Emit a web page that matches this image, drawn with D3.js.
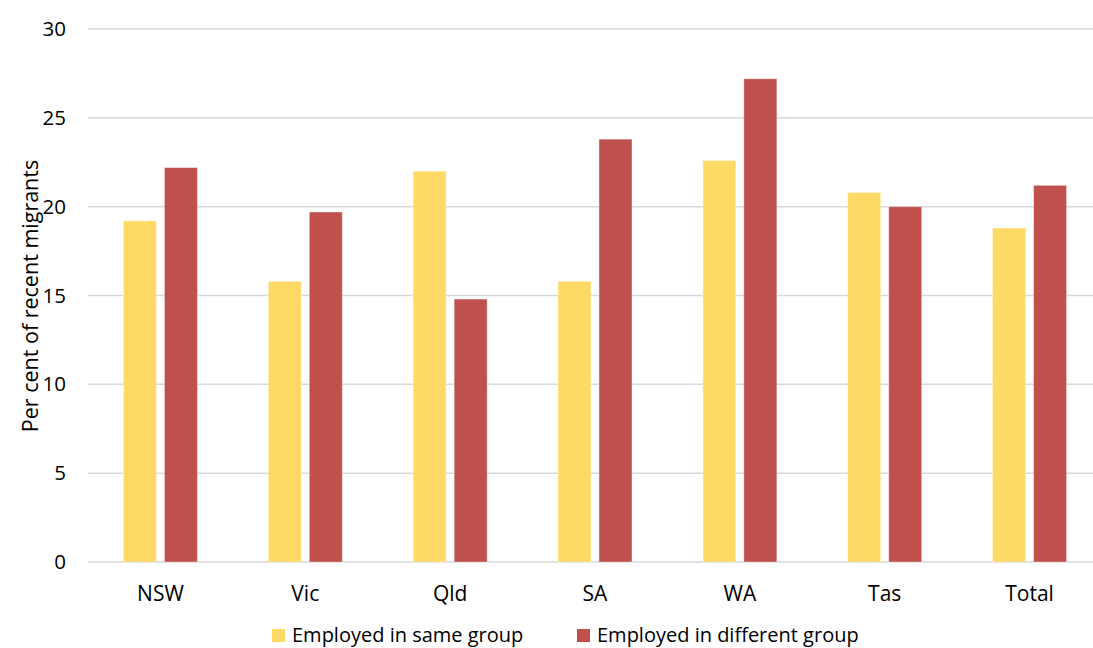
<!DOCTYPE html>
<html>
<head>
<meta charset="utf-8">
<script src="https://cdn.jsdelivr.net/npm/d3@7"></script>
<style>
  body { margin: 0; background: #fff; }
  svg text { font-family: "Open Sans", Lato, sans-serif; fill: #000; }
</style>
</head>
<body>
<div id="chart"></div>
<script>
// chart data
const categories = ["NSW", "Vic", "Qld", "SA", "WA", "Tas", "Total"];
const seriesNames = ["Employed in same group", "Employed in different group"];
const sameGroup = [19.2, 15.8, 22.0, 15.8, 22.6, 20.8, 18.8];
const differentGroup = [22.2, 19.7, 14.8, 23.8, 27.2, 20.0, 21.2];
const yTicks = [0, 5, 10, 15, 20, 25, 30];
const colours = ["#FFD966", "#C0504D"];

const width = 1093, height = 648;
const margin = {top: 29, right: -9, bottom: 86, left: 88};
const fontStack = "'Open Sans', Lato, sans-serif";

let svg = d3.select("#chart").append("svg")
  .attr("width", width)
  .attr("height", height);

let plotW = width - margin.left - margin.right;
let plotH = height - margin.top - margin.bottom;

let g = svg.append("g").attr("transform", "translate(" + margin.left + "," + margin.top + ")");

let x0 = d3.scaleBand().domain(categories).range([0, plotW]).padding(0);
let bw = x0.bandwidth();
let x1 = d3.scaleBand().domain([0, 1])
  .range([bw / 2 - 37, bw / 2 + 37])
  .paddingInner(0.195).paddingOuter(0);

let y = d3.scaleLinear().domain([0, 30]).range([plotH, 0]);

// gridlines
g.append("g").attr("class", "grid")
  .selectAll("line").data(yTicks).enter().append("line")
  .attr("x1", 0).attr("x2", plotW)
  .attr("y1", d => y(d)).attr("y2", d => y(d))
  .attr("stroke", "#d9d9d9").attr("stroke-width", 1.5);

// y axis labels
let yAxis = g.append("g").call(d3.axisLeft(y).tickValues(yTicks).tickSize(0).tickPadding(22));
yAxis.select(".domain").remove();
yAxis.selectAll("text").attr("font-size", 20.5).attr("font-family", fontStack);

// x axis labels
let xAxis = g.append("g").attr("transform", "translate(0," + plotH + ")")
  .call(d3.axisBottom(x0).tickSize(0).tickPadding(24));
xAxis.select(".domain").remove();
xAxis.selectAll("text").attr("font-size", 21).attr("font-family", fontStack);

// bars
let rows = categories.map((c, i) => ({cat: c, vals: [sameGroup[i], differentGroup[i]]}));
let groups = g.append("g").selectAll("g").data(rows).enter().append("g")
  .attr("transform", d => "translate(" + x0(d.cat) + ",0)");
groups.selectAll("rect").data(d => d.vals.map((v, k) => ({k: k, v: v}))).enter().append("rect")
  .attr("x", d => x1(d.k))
  .attr("width", x1.bandwidth())
  .attr("y", d => y(d.v))
  .attr("height", d => plotH - y(d.v))
  .attr("fill", d => colours[d.k])
  .attr("stroke", "#fff").attr("stroke-opacity", 0.4).attr("stroke-width", 1);

// y axis title
svg.append("text")
  .attr("transform", "translate(29,296) rotate(-90)")
  .attr("text-anchor", "middle")
  .attr("dominant-baseline", "central")
  .attr("font-size", 21.5)
  .text("Per cent of recent migrants");

// legend
let legendItems = [{x: 272, name: seriesNames[0], c: colours[0]}, {x: 577, name: seriesNames[1], c: colours[1]}];
let legend = svg.append("g").selectAll("g").data(legendItems).enter().append("g")
  .attr("transform", d => "translate(" + d.x + ",634)");
legend.append("rect").attr("x", 0).attr("y", -5).attr("width", 13).attr("height", 13).attr("fill", d => d.c);
legend.append("text").attr("x", 20).attr("y", 0)
  .attr("dominant-baseline", "central")
  .attr("font-size", 20)
  .text(d => d.name);
</script>
</body>
</html>
